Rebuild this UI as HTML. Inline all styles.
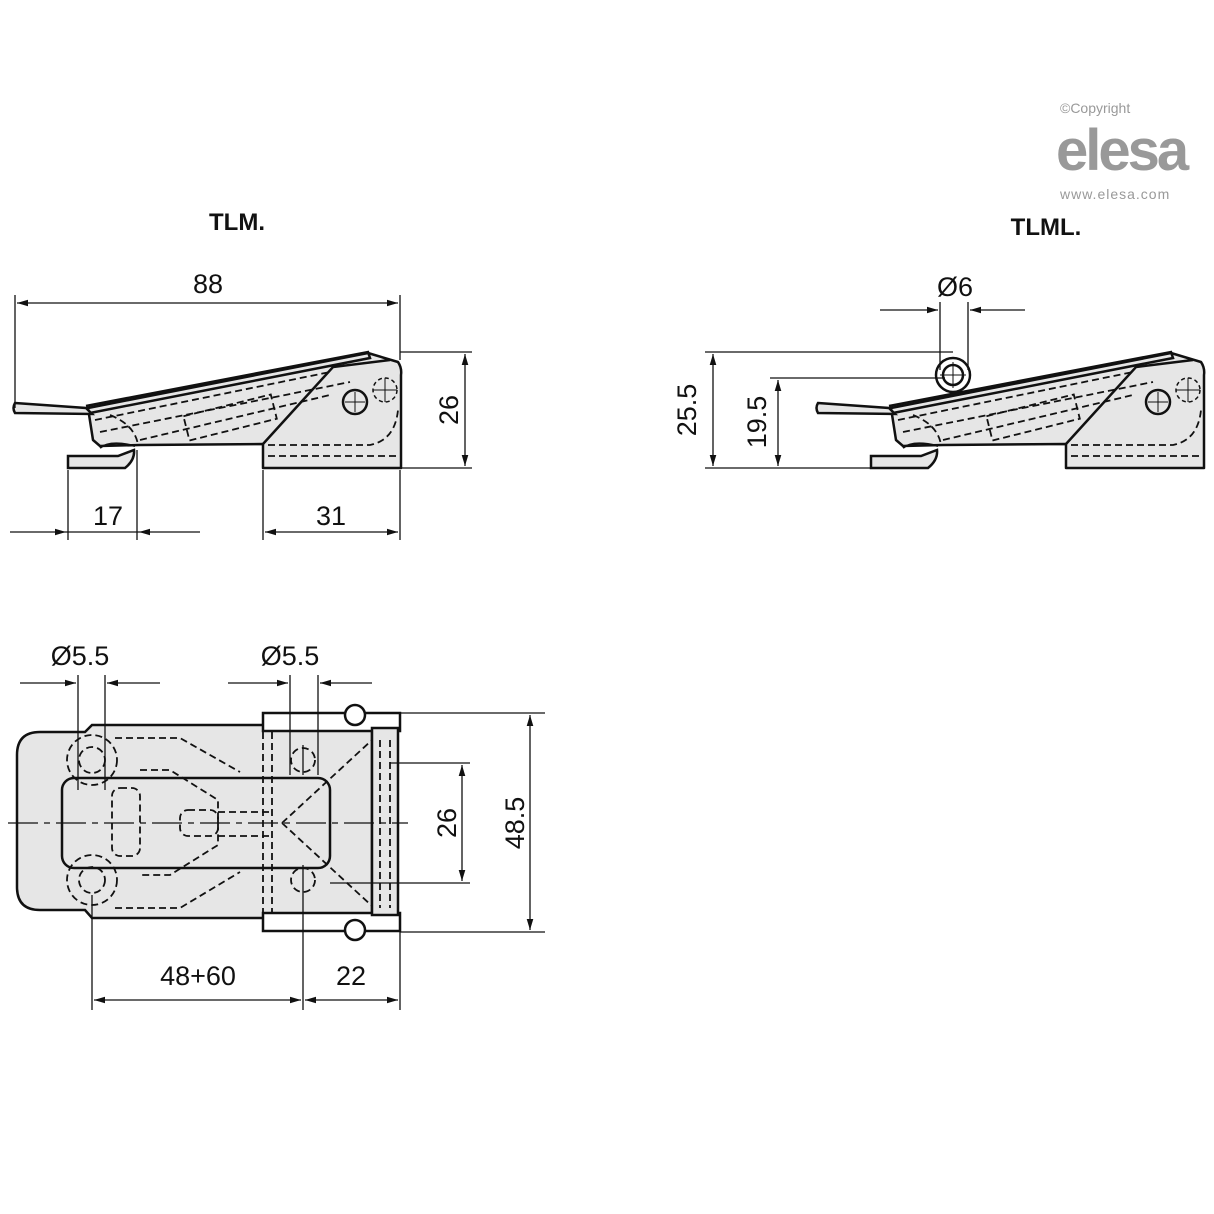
<!DOCTYPE html>
<html><head><meta charset="utf-8"><style>
html,body{margin:0;padding:0;background:#fff}
svg{display:block}
text{font-family:"Liberation Sans",Arial,sans-serif;fill:#111}
</style></head><body>
<svg width="1214" height="1214" viewBox="0 0 1214 1214" xmlns="http://www.w3.org/2000/svg">
<defs>
<marker id="a" viewBox="0 0 10 10" refX="10" refY="5" markerWidth="13" markerHeight="11" orient="auto-start-reverse" markerUnits="userSpaceOnUse"><path d="M0,2 L10,5 L0,8 z" fill="#111"/></marker>
<g id="latch">
 <path d="M88,408 L368,353 L398,362 Q402,368 401,375 L401,468 L263,468 L263,444 L140,445 L100,446 L93,440 Z" fill="#e6e6e6" stroke="#111" stroke-width="2.5" stroke-linejoin="round"/>
 <path d="M15,403 L86,408 L92,414 L15,413 Q12,408 15,403 Z" fill="#e6e6e6" stroke="#111" stroke-width="2.5"/>
 <path d="M86,406 L368,352 L370,358 L90,413" fill="none" stroke="#111" stroke-width="2.5"/>
 <path d="M263,444 L333,367 L390,360" fill="none" stroke="#111" stroke-width="2.5"/>
 <path d="M68,456 L118,456 L134,450 Q135,460 125,468 L68,468 Z" fill="#e6e6e6" stroke="#111" stroke-width="2.5"/>
 <path d="M100,448 Q110,440 135,446" fill="none" stroke="#111" stroke-width="2"/>
 <circle cx="355" cy="402" r="12" fill="none" stroke="#111" stroke-width="2.5"/>
 <circle cx="385" cy="390" r="12" fill="none" stroke="#111" stroke-width="1.5" stroke-dasharray="4,3"/>
 <path d="M355,392 V412 M345,402 H365 M385,378 V402 M373,390 H397" stroke="#111" stroke-width="1"/>
 <g fill="none" stroke="#111" stroke-width="1.8" stroke-dasharray="7,4">
  <path d="M95,420 L330,372"/>
  <path d="M100,432 L350,382"/>
  <path d="M140,440 L330,395"/>
  <path d="M268,445 L370,445 Q395,440 398,410"/>
  <path d="M268,456 L398,456"/>
  <path d="M110,415 Q135,425 138,445"/>
  <rect x="185" y="405" width="90" height="25" transform="rotate(-14 230 417)"/>
 </g>
</g>
</defs>

<!-- logo -->
<text x="1060" y="113" font-size="14" style="fill:#999">©Copyright</text>
<text x="1056" y="170" font-size="58" font-weight="bold" style="fill:#999" letter-spacing="-3">elesa</text>
<text x="1060" y="199" font-size="14" style="fill:#999" letter-spacing="1">www.elesa.com</text>

<text x="237" y="230" font-size="24" font-weight="bold" text-anchor="middle">TLM.</text>
<text x="1046" y="235" font-size="24" font-weight="bold" text-anchor="middle">TLML.</text>

<use href="#latch"/>
<use href="#latch" transform="translate(803,0)"/>
<!-- TLML loop -->
<circle cx="953" cy="375" r="17" fill="#fff" stroke="#111" stroke-width="2.5"/>
<circle cx="953" cy="375" r="10" fill="none" stroke="#111" stroke-width="2.5"/>
<path d="M953,362 V388 M940,375 H966" stroke="#111" stroke-width="1"/>

<g stroke="#111" stroke-width="1.3" fill="none">
 <path d="M15,295 V408 M400,295 V360 M400,352 H472 M401,468 H472 M68,470 V540 M137,450 V540 M263,470 V540 M400,470 V540"/>
 <path d="M17,303 H398" marker-start="url(#a)" marker-end="url(#a)"/>
 <path d="M465,354 V466" marker-start="url(#a)" marker-end="url(#a)"/>
 <path d="M10,532 H66" marker-end="url(#a)"/>
 <path d="M200,532 H139" marker-end="url(#a)"/>
 <path d="M66,532 H139"/>
 <path d="M265,532 H398" marker-start="url(#a)" marker-end="url(#a)"/>
 <path d="M705,352 H953 M705,468 H880 M770,378 H945 M940,302 V370 M968,302 V370"/>
 <path d="M713,354 V466" marker-start="url(#a)" marker-end="url(#a)"/>
 <path d="M778,380 V466" marker-start="url(#a)" marker-end="url(#a)"/>
 <path d="M880,310 H938" marker-end="url(#a)"/>
 <path d="M1025,310 H970" marker-end="url(#a)"/>
</g>
<g font-size="27">
<text x="208" y="293" text-anchor="middle">88</text>
<text x="108" y="525" text-anchor="middle">17</text>
<text x="331" y="525" text-anchor="middle">31</text>
<text transform="translate(458,410) rotate(-90)" text-anchor="middle">26</text>
<text x="955" y="296" text-anchor="middle">Ø6</text>
<text transform="translate(696,410) rotate(-90)" text-anchor="middle">25.5</text>
<text transform="translate(766,422) rotate(-90)" text-anchor="middle">19.5</text>
<text x="80" y="665" text-anchor="middle">Ø5.5</text>
<text x="290" y="665" text-anchor="middle">Ø5.5</text>
<text transform="translate(456,823) rotate(-90)" text-anchor="middle">26</text>
<text transform="translate(524,823) rotate(-90)" text-anchor="middle">48.5</text>
<text x="198" y="985" text-anchor="middle">48+60</text>
<text x="351" y="985" text-anchor="middle">22</text>
</g>

<path d="M92,725 L372,725 L372,918 L92,918 L85,910 L40,910 Q17,910 17,887 L17,755 Q17,732 40,732 L85,732 Z" fill="#e6e6e6" stroke="#111" stroke-width="2.5"/>
<rect x="62" y="778" width="268" height="90" rx="12" fill="#e6e6e6" stroke="#111" stroke-width="2.5"/>
<rect x="263" y="713" width="137" height="18" fill="#fff" stroke="#111" stroke-width="2.5"/>
<rect x="263" y="913" width="137" height="18" fill="#fff" stroke="#111" stroke-width="2.5"/>
<circle cx="355" cy="715" r="10" fill="#fff" stroke="#111" stroke-width="2.5"/>
<circle cx="355" cy="930" r="10" fill="#fff" stroke="#111" stroke-width="2.5"/>
<rect x="372" y="728" width="26" height="187" fill="#e6e6e6" stroke="#111" stroke-width="2.5"/>
<g fill="none" stroke="#111" stroke-width="1.8" stroke-dasharray="7,4">
 <path d="M115,738 L180,738 L240,772 M115,908 L180,908 L240,872"/>
 <path d="M140,770 L170,770 L218,800 L218,845 L170,875 L140,875"/>
 <rect x="112" y="788" width="28" height="68" rx="8"/>
 <path d="M218,812 H270 M218,836 H270"/>
 <rect x="180" y="810" width="38" height="26" rx="8"/>
 <path d="M263,732 V912 M272,732 V912 M380,740 V908 M390,740 V908"/>
 <path d="M282,823 L372,740 M282,823 L372,906"/>
 <circle cx="92" cy="760" r="25"/><circle cx="92" cy="880" r="25"/>
 <circle cx="303" cy="760" r="12"/><circle cx="303" cy="880" r="12"/>
 <circle cx="92" cy="760" r="13"/><circle cx="92" cy="880" r="13"/>
</g>
<g stroke="#111" stroke-width="1.3" fill="none">
 <path d="M8,823 H408" stroke-dasharray="30,6,6,6"/>
 <path d="M78,675 V790 M105,675 V790 M290,675 V775 M318,675 V775 M303,745 V775 M303,865 V895"/>
 <path d="M92,895 V1010 M303,895 V1010 M400,930 V1010"/>
 <path d="M372,713 H545 M400,932 H545 M390,763 H470 M330,883 H470"/>
 <path d="M20,683 H76" marker-end="url(#a)"/>
 <path d="M160,683 H107" marker-end="url(#a)"/>
 <path d="M228,683 H288" marker-end="url(#a)"/>
 <path d="M372,683 H320" marker-end="url(#a)"/>
 <path d="M462,765 V881" marker-start="url(#a)" marker-end="url(#a)"/>
 <path d="M530,715 V930" marker-start="url(#a)" marker-end="url(#a)"/>
 <path d="M94,1000 H301" marker-start="url(#a)" marker-end="url(#a)"/>
 <path d="M305,1000 H398" marker-start="url(#a)" marker-end="url(#a)"/>
</g>
</svg>
</body></html>
